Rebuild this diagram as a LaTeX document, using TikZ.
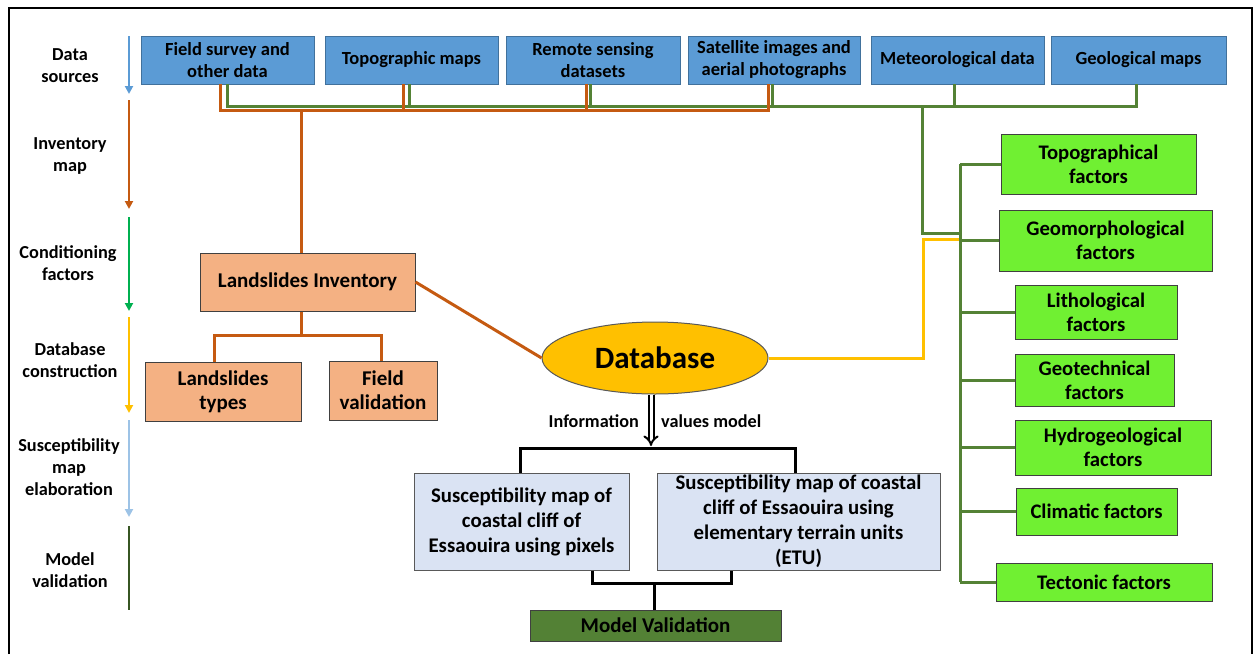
\documentclass[tikz,border=0pt]{standalone}
\usepackage{fontspec}
\setmainfont{Carlito}
\usetikzlibrary{shapes.geometric,arrows.meta}
\definecolor{srcblue}{HTML}{5B9BD5}
\definecolor{srcborder}{HTML}{41719C}
\definecolor{orng}{HTML}{C55A11}
\definecolor{grn}{HTML}{548235}
\definecolor{yel}{HTML}{FFC000}
\definecolor{facgreen}{HTML}{70F032}
\definecolor{invorange}{HTML}{F4B183}
\definecolor{susblue}{HTML}{DAE3F3}
\definecolor{mvgreen}{HTML}{538135}
\definecolor{arrgreen}{HTML}{00B050}
\definecolor{arrlblue}{HTML}{9DC3E6}
\definecolor{arrdgreen}{HTML}{375623}
\definecolor{boxline}{HTML}{404040}
\begin{document}
\begin{tikzpicture}[x=1pt,y=-1pt,
  lbl/.style={font=\fontsize{18.3}{22}\selectfont\bfseries, align=center, inner sep=0pt},
  src/.style={draw=srcborder, fill=srcblue, line width=0.8pt, minimum height=48pt, inner sep=0pt, align=center, font=\fontsize{18.5}{22}\selectfont\bfseries},
  fac/.style={draw=boxline, fill=facgreen, line width=1pt, inner sep=0pt, align=center, font=\fontsize{20.7}{24}\selectfont\bfseries},
  inv/.style={draw=boxline, fill=invorange, line width=1pt, inner sep=0pt, align=center, font=\fontsize{21}{24}\selectfont\bfseries},
  sus/.style={draw=gray!70!black, fill=susblue, line width=1pt, inner sep=0pt, align=center, font=\fontsize{20.8}{25}\selectfont\bfseries},
  info/.style={font=\fontsize{18.2}{20}\selectfont\bfseries, inner sep=0pt},
  oline/.style={draw=orng, line width=3pt},
  gline/.style={draw=grn, line width=3pt},
  yline/.style={draw=yel, line width=3pt},
  bline/.style={draw=black, line width=3pt},
  parr/.style={line width=2pt, -{Triangle[width=8pt,length=8pt]}}
]
\useasboundingbox (0,0) rectangle (1260,654);
% frame
\draw[line width=2.5pt] (9,654) -- (9,8) -- (1252,8) -- (1252,654);

% phase arrows
\draw[parr, srcblue] (129,36) -- (129,94);
\draw[parr, orng] (129,100) -- (129,209);
\draw[parr, arrgreen] (129,217) -- (129,311);
\draw[parr, yel] (129,317) -- (129,413);
\draw[parr, arrlblue] (129,420) -- (129,517);
\draw[line width=2pt, arrdgreen] (129,526) -- (129,610);

% phase labels
\node[lbl] (p1) at (70,66) {Data\\sources};
\node[lbl] (p2) at (70,156) {Inventory\\map};
\node[lbl] (p3) at (68,263) {Conditioning\\factors};
\node[lbl] (p4) at (70,360) {Database\\construction};
\node[lbl] (p5) at (69,467) {Susceptibility\\map\\elaboration};
\node[lbl] (p6) at (70,570) {Model\\validation};

% data sources
\node[src, minimum width=173pt] (f1) at (227.5,60) {Field survey and\\other data};
\node[src, minimum width=173pt] (f2) at (411.5,60) {Topographic maps};
\node[src, minimum width=174pt] (f3) at (593,60) {Remote sensing\\datasets};
\node[src, minimum width=172pt] (f4) at (774,60) {Satellite images and\\aerial photographs};
\node[src, minimum width=173pt] (f5) at (957.5,60) {Meteorological data};
\node[src, minimum width=175pt] (f6) at (1138.5,60) {Geological maps};

% factors
\node[fac, minimum width=195pt, minimum height=60pt] (t1) at (1098.5,164) {Topographical\\factors};
\node[fac, minimum width=213pt, minimum height=61pt] (t2) at (1105.5,240.5) {Geomorphological\\factors};
\node[fac, minimum width=162pt, minimum height=54pt] (t3) at (1096,312) {Lithological\\factors};
\node[fac, minimum width=159pt, minimum height=52pt] (t4) at (1094.5,380) {Geotechnical\\factors};
\node[fac, minimum width=196pt, minimum height=55pt] (t5) at (1113,447.5) {Hydrogeological\\factors};
\node[fac, minimum width=161pt, minimum height=47pt] (t6) at (1096.5,511.5) {Climatic factors};
\node[fac, minimum width=216pt, minimum height=38pt] (t7) at (1104,582) {Tectonic factors};

% inventory
\node[inv, minimum width=215pt, minimum height=58pt] (inv) at (307.5,282) {Landslides Inventory};
\node[inv, minimum width=156pt, minimum height=59pt] (lt) at (223,391.5) {Landslides\\types};
\node[inv, minimum width=108pt, minimum height=59pt] (fv) at (383,390.5) {Field\\validation};

% database
\node[ellipse, draw=gray!70!black, fill=yel, line width=1pt, minimum width=226pt, minimum height=72pt, inner sep=0pt, font=\fontsize{31}{34}\selectfont\bfseries] (db) at (655,358) {Database};

% susceptibility maps
\node[sus, minimum width=215pt, minimum height=97pt] (s1) at (521.5,521.5) {Susceptibility map of\\coastal cliff of\\Essaouira using pixels};
\node[sus, minimum width=283pt, minimum height=97pt] (s2) at (798.5,521.5) {Susceptibility map of coastal\\cliff of Essaouira using\\elementary terrain units\\(ETU)};
\node[draw=boxline, fill=mvgreen, line width=1pt, minimum width=251pt, minimum height=31pt, inner sep=0pt, font=\fontsize{21}{22}\selectfont\bfseries] (mv) at (655.5,625.5) {Model Validation};

% labels of model arrow
\node[info, anchor=east] (il) at (639,421) {Information};
\node[info, anchor=west] (vl) at (661,421) {values model};

% orange bus
\coordinate (ob) at (0,110);
\coordinate (o1) at ([xshift=-7.5pt]f1.south);
\coordinate (o2) at ([xshift=-8.5pt]f2.south);
\coordinate (o3) at ([xshift=-7pt]f3.south);
\coordinate (o4) at ([xshift=-6pt]f4.south);
% green bus
\coordinate (gb) at (0,106);
\coordinate (g1) at ([xshift=-0.5pt]f1.south);
\coordinate (g2) at ([xshift=-2.5pt]f2.south);
\coordinate (g3) at ([xshift=-3pt]f3.south);
\coordinate (g4) at ([xshift=-2pt]f4.south);
\coordinate (g5) at ([xshift=-3.5pt]f5.south);
\coordinate (g6) at ([xshift=-2.5pt]f6.south);
\draw[gline] (g1) |- (g6 |- gb) -- (g6);
\foreach \g in {g2,g3,g4,g5} \draw[gline] (\g) -- (\g |- gb);
\draw[oline] (o1) |- (o4 |- ob) -- (o4);
\foreach \o in {o2,o3} \draw[oline] (\o) -- (\o |- ob);

% orange trunk to inventory
\coordinate (oj) at (301,110);
\draw[oline] (oj) -- (oj |- inv.north);
% inventory children
\coordinate (ij) at ([xshift=-6.5pt]inv.south);
\coordinate (c1) at (214,335);
\coordinate (c2) at (381,335);
\draw[oline] (ij) -- (ij |- c1);
\draw[oline] (c1 |- lt.north) -- (c1) -- (c2) -- (c2 |- fv.north);
% inventory to database
\draw[oline] (inv.east) -- (db.west);

% yellow database to factors
\coordinate (gv) at (960,0);
\coordinate (yk) at (923,239);
\draw[yline] (db.east) -| (yk) -- (yk -| gv);

% green trunk to factors
\coordinate (gj) at (922,106);
\coordinate (gk) at (960,233);
\draw[gline] (gj) |- (gk);
\draw[gline] (gv |- t1.west) -- (gv |- t7.west);
\foreach \t in {t1,t2,t3,t4,t5,t6,t7} \draw[gline] (gv |- \t.west) -- (\t.west);

% model arrow
\coordinate (ba) at (651,446);
\draw[double=white, double distance=3pt, line width=2pt, -{Implies[length=7pt,width=14pt]}] (ba |- db.south) -- (ba);

% black brackets
\coordinate (bl) at (520,448);
\coordinate (br) at (795,448);
\draw[bline] (bl |- s1.north) -- (bl) -- (br) -- (br |- s2.north);
\coordinate (ml) at (592,583);
\coordinate (mr) at (731,583);
\coordinate (mj) at (654,583);
\draw[bline] (ml |- s1.south) -- (ml) -- (mr) -- (mr |- s2.south);
\draw[bline] (mj) -- (mj |- mv.north);
\end{tikzpicture}
\end{document}
